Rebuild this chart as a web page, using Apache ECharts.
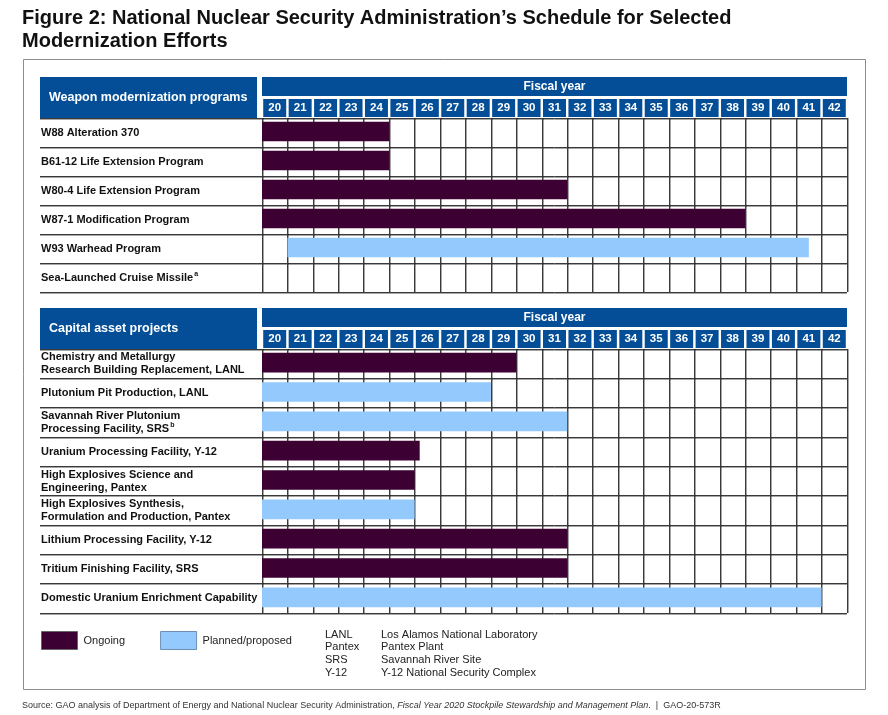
<!DOCTYPE html>
<html>
<head>
<meta charset="utf-8">
<script src="https://cdn.jsdelivr.net/npm/echarts@6/dist/echarts.min.js"></script>
<style>
html,body{margin:0;padding:0;background:#fff;}
#chart{width:888px;height:715px;}
</style>
</head>
<body>
<div id="chart"></div>
<script>
// ---------- data ----------
const fiscalYears = ['20','21','22','23','24','25','26','27','28','29','30','31','32','33','34','35','36','37','38','39','40','41','42'];

const weaponPrograms = ['W88 Alteration 370','B61-12 Life Extension Program','W80-4 Life Extension Program','W87-1 Modification Program','W93 Warhead Program','Sea-Launched Cruise Missile'];
const weaponNotes = ['','','','','','a'];
const weaponStart = [20, 20, 20, 20, 21, null];
const weaponEnd = [25, 25, 32, 39, 41.5, null];
const weaponStatus = ['Ongoing','Ongoing','Ongoing','Ongoing','Planned/proposed', null];

const capitalProjects = ['Chemistry and Metallurgy\nResearch Building Replacement, LANL','Plutonium Pit Production, LANL','Savannah River Plutonium\nProcessing Facility, SRS','Uranium Processing Facility, Y-12','High Explosives Science and\nEngineering, Pantex','High Explosives Synthesis,\nFormulation and Production, Pantex','Lithium Processing Facility, Y-12','Tritium Finishing Facility, SRS','Domestic Uranium Enrichment Capability'];
const capitalNotes = ['','','b','','','','','',''];
const capitalStart = [20, 20, 20, 20, 20, 20, 20, 20, 20];
const capitalEnd = [30, 29, 32, 26.2, 26, 26, 32, 32, 42];
const capitalStatus = ['Ongoing','Planned/proposed','Planned/proposed','Ongoing','Ongoing','Planned/proposed','Ongoing','Ongoing','Planned/proposed'];

const abbreviations = ['LANL','Pantex','SRS','Y-12'];
const abbreviationMeanings = ['Los Alamos National Laboratory','Pantex Plant','Savannah River Site','Y-12 National Security Complex'];

// ---------- styles ----------
const DARK = '#3c0032';
const LIGHT = '#93c9fd';
const BLUE = '#034e97';
const FONT = "'Liberation Sans', Arial, sans-serif";
const statusColor = {'Ongoing': DARK, 'Planned/proposed': LIGHT};

function rows(starts, ends, statuses, status) {
  const out = [];
  for (let i = 0; i < starts.length; i++) {
    if (statuses[i] === status && starts[i] != null) out.push([i, starts[i], ends[i]]);
  }
  return out;
}

function renderBar(params, api) {
  const s = api.coord([api.value(1), api.value(0)]);
  const e = api.coord([api.value(2), api.value(0)]);
  const band = api.size([0, 1])[1];
  const h = band * 0.67;
  return {
    type: 'rect',
    shape: {x: s[0], y: s[1] - h / 2 - 1, width: e[0] - s[0], height: h},
    style: {fill: api.visual('color')}
  };
}

function labelFormatter(notes) {
  return function (value, idx) {
    const n = notes[idx];
    const lines = value.split('\n');
    return lines.map((l, k) => (k === lines.length - 1 && n) ? '{t|' + l + '}{sup|' + n + '}' : '{t|' + l + '}').join('\n');
  };
}

const grids = [
  {left: 262, right: 41, top: 118, height: 174},
  {left: 262, right: 41, top: 349, height: 264}
];

const gridLine = {color: '#3a3a3a', width: 1, shadowColor: 'rgba(0,0,0,0.35)', shadowBlur: 0};

function valueAxis(gi) {
  return {
    type: 'value', gridIndex: gi, min: 20, max: 43, interval: 1, position: 'bottom',
    axisLabel: {show: false}, axisTick: {show: false}, axisLine: {show: false},
    splitLine: {show: true, lineStyle: Object.assign({}, gridLine, {shadowOffsetX: 1})}
  };
}
function yearAxis(gi) {
  return {
    type: 'category', gridIndex: gi, position: 'top', data: fiscalYears, boundaryGap: true,
    axisLine: {show: false}, axisTick: {show: false}, splitLine: {show: false},
    axisLabel: {
      interval: 0, margin: 1, color: '#fff', fontWeight: 'bold', fontSize: 11.5, fontFamily: FONT,
      backgroundColor: BLUE, width: 23, height: 18, lineHeight: 18, align: 'center', verticalAlign: 'bottom'
    }
  };
}
function catAxis(gi, names, notes) {
  return {
    type: 'category', gridIndex: gi, data: names, inverse: true, boundaryGap: true,
    axisLine: {show: false},
    axisTick: {show: true, length: 222, interval: 0, lineStyle: Object.assign({}, gridLine, {shadowOffsetY: 1})},
    splitLine: {show: true, interval: 0, lineStyle: Object.assign({}, gridLine, {shadowOffsetY: 1})},
    axisLabel: {
      interval: 0, margin: 221, align: 'left', formatter: labelFormatter(notes),
      rich: {
        t: {fontSize: 11, fontWeight: 'bold', color: '#111', fontFamily: FONT, lineHeight: 13},
        sup: {fontSize: 7, fontWeight: 'bold', color: '#111', fontFamily: FONT, lineHeight: 13, padding: [0, 0, 7, 1]}
      }
    }
  };
}

function barSeries(name, xi, yi, data) {
  return {
    type: 'custom', name: name, xAxisIndex: xi, yAxisIndex: yi,
    itemStyle: {color: statusColor[name]},
    renderItem: renderBar, encode: {x: [1, 2], y: 0}, data: data, silent: true
  };
}

function header(y, text) {
  return [
    {type: 'rect', shape: {x: 40, y: y, width: 217, height: 41}, style: {fill: BLUE}},
    {type: 'text', x: 49, y: y + 21, style: {text: text, fill: '#fff', font: 'bold 12.5px ' + FONT, textVerticalAlign: 'middle'}},
    {type: 'rect', shape: {x: 262, y: y, width: 585, height: 19}, style: {fill: BLUE}},
    {type: 'text', x: 554.5, y: y + 10, style: {text: 'Fiscal year', fill: '#fff', font: 'bold 12px ' + FONT, textAlign: 'center', textVerticalAlign: 'middle'}}
  ];
}

const graphics = [
  {type: 'rect', shape: {x: 23.5, y: 59.5, width: 842, height: 630}, style: {fill: null, stroke: '#8c8c8c', lineWidth: 1}}
].concat(header(77, 'Weapon modernization programs'), header(308, 'Capital asset projects'));

abbreviations.forEach((a, i) => {
  graphics.push({type: 'text', x: 325, y: 634.5 + i * 12.7, style: {text: a, fill: '#222', font: '11px ' + FONT, textVerticalAlign: 'middle'}});
  graphics.push({type: 'text', x: 381, y: 634.5 + i * 12.7, style: {text: abbreviationMeanings[i], fill: '#222', font: '11px ' + FONT, textVerticalAlign: 'middle'}});
});

const option = {
  animation: false,
  backgroundColor: '#fff',
  title: [
    {
      text: 'Figure 2: National Nuclear Security Administration\u2019s Schedule for Selected\nModernization Efforts',
      left: 22, top: 7, padding: 0,
      textStyle: {fontFamily: "'Liberation Sans Narrow', 'Arial Narrow', " + FONT, fontWeight: 'bold', fontSize: 20, lineHeight: 23, color: '#111'}
    },
    {
      text: '{n|Source: GAO analysis of Department of Energy and National Nuclear Security Administration, }{i|Fiscal Year 2020 Stockpile Stewardship and Management Plan}{n|.  |  GAO-20-573R}',
      left: 22, top: 701, padding: 0,
      textStyle: {
        fontWeight: 'normal',
        rich: {
          n: {fontFamily: FONT, fontSize: 9, fontWeight: 'normal', color: '#333'},
          i: {fontFamily: FONT, fontSize: 9, fontWeight: 'normal', color: '#333', fontStyle: 'italic'}
        }
      }
    }
  ],
  legend: {
    left: 41, top: 631, padding: 0, itemWidth: 36, itemHeight: 18, itemGap: 35, icon: 'rect',
    textStyle: {fontFamily: FONT, fontSize: 11, color: '#222', padding: [0, 0, 0, 1]},
    selectedMode: false,
    data: [
      {name: 'Ongoing', itemStyle: {color: DARK, borderColor: '#666', borderWidth: 1}},
      {name: 'Planned/proposed', itemStyle: {color: LIGHT, borderColor: '#6c8fb3', borderWidth: 1}}
    ]
  },
  grid: grids,
  xAxis: [valueAxis(0), yearAxis(0), valueAxis(1), yearAxis(1)],
  yAxis: [catAxis(0, weaponPrograms, weaponNotes), catAxis(1, capitalProjects, capitalNotes)],
  series: [
    barSeries('Ongoing', 0, 0, rows(weaponStart, weaponEnd, weaponStatus, 'Ongoing')),
    barSeries('Planned/proposed', 0, 0, rows(weaponStart, weaponEnd, weaponStatus, 'Planned/proposed')),
    barSeries('Ongoing', 2, 1, rows(capitalStart, capitalEnd, capitalStatus, 'Ongoing')),
    barSeries('Planned/proposed', 2, 1, rows(capitalStart, capitalEnd, capitalStatus, 'Planned/proposed'))
  ],
  graphic: graphics
};

const chart = echarts.init(document.getElementById('chart'), null, {renderer: 'canvas'});
chart.setOption(option);
</script>
</body>
</html>
